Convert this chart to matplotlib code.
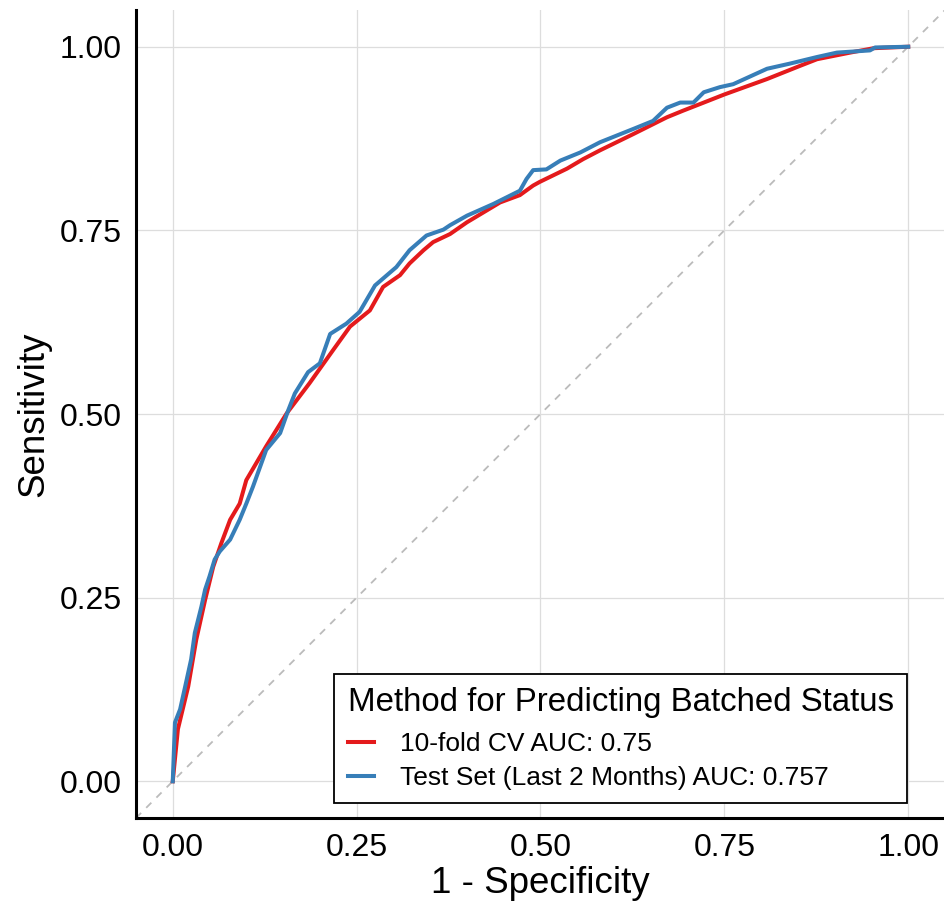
import numpy as np
import matplotlib
matplotlib.use("Agg")
import matplotlib.pyplot as plt

plt.rcParams['font.family'] = ['Liberation Sans', 'DejaVu Sans']

# ROC points (false positive rate, true positive rate)
cv_fpr = [0.0, 0.007, 0.021, 0.032, 0.044, 0.055, 0.066, 0.078, 0.091, 0.100, 0.127,
          0.155, 0.186, 0.218, 0.241, 0.268, 0.286, 0.309, 0.322, 0.341, 0.354, 0.377,
          0.400, 0.445, 0.472, 0.490, 0.499, 0.536, 0.558, 0.581, 0.626, 0.672, 0.694,
          0.717, 0.750, 0.808, 0.853, 0.876, 0.921, 0.953, 1.0]
cv_tpr = [0.0, 0.071, 0.129, 0.193, 0.247, 0.292, 0.324, 0.356, 0.378, 0.410, 0.456,
          0.501, 0.542, 0.587, 0.619, 0.641, 0.673, 0.689, 0.705, 0.723, 0.734, 0.745,
          0.761, 0.788, 0.798, 0.811, 0.816, 0.834, 0.847, 0.859, 0.881, 0.904, 0.913,
          0.922, 0.935, 0.956, 0.974, 0.983, 0.992, 0.998, 1.0]

test_fpr = [0.0, 0.003, 0.010, 0.016, 0.025, 0.030, 0.039, 0.044, 0.050, 0.057, 0.064,
            0.078, 0.091, 0.100, 0.109, 0.127, 0.146, 0.157, 0.166, 0.184, 0.200, 0.214,
            0.236, 0.254, 0.275, 0.304, 0.322, 0.345, 0.368, 0.377, 0.400, 0.436, 0.472,
            0.481, 0.490, 0.508, 0.527, 0.554, 0.581, 0.626, 0.653, 0.672, 0.690, 0.708,
            0.722, 0.744, 0.762, 0.808, 0.839, 0.876, 0.903, 0.948, 0.955, 1.0]
test_tpr = [0.0, 0.080, 0.098, 0.125, 0.166, 0.202, 0.238, 0.261, 0.279, 0.302, 0.313,
            0.329, 0.356, 0.378, 0.401, 0.451, 0.474, 0.505, 0.528, 0.557, 0.569, 0.609,
            0.623, 0.639, 0.675, 0.700, 0.723, 0.743, 0.751, 0.757, 0.770, 0.786, 0.804,
            0.820, 0.832, 0.833, 0.845, 0.856, 0.870, 0.888, 0.899, 0.917, 0.924, 0.924,
            0.938, 0.945, 0.949, 0.970, 0.977, 0.986, 0.992, 0.995, 0.999, 1.0]

labels = ['10-fold CV AUC: 0.75', 'Test Set (Last 2 Months) AUC: 0.757']
line_colors = ['#E41A1C', '#377EB8']
ticks = [0.0, 0.25, 0.5, 0.75, 1.0]
tick_labels = ['0.00', '0.25', '0.50', '0.75', '1.00']

fig = plt.figure(figsize=(9.45, 9.09), dpi=100)
ax = fig.add_axes([0.1439, 0.1001, 0.8561, 0.8889])

# chance line
ax.plot([-0.05, 1.05], [-0.05, 1.05], color='#BBBBBB', lw=1.3, ls=(0, (4, 4)), zorder=1)

ax.plot(cv_fpr, cv_tpr, color=line_colors[0], lw=2.9, label=labels[0], zorder=3)
ax.plot(test_fpr, test_tpr, color=line_colors[1], lw=2.9, label=labels[1], zorder=4)

ax.set_xlim(-0.05, 1.05)
ax.set_ylim(-0.05, 1.05)
ax.set_xticks(ticks)
ax.set_xticklabels(tick_labels)
ax.set_yticks(ticks)
ax.set_yticklabels(tick_labels)
ax.grid(True, color='#DDDDDD', lw=0.9, zorder=0)
ax.set_axisbelow(True)
ax.tick_params(length=0, labelsize=23, colors='black')
ax.tick_params(axis='x', pad=11)
ax.tick_params(axis='y', pad=10)

for side in ['top', 'right']:
    ax.spines[side].set_visible(False)
for side in ['left', 'bottom']:
    ax.spines[side].set_linewidth(2.2)
    ax.spines[side].set_color('black')

ax.set_xlabel('1 - Specificity', fontsize=26.5, labelpad=2)
ax.set_ylabel('Sensitivity', fontsize=26.5, labelpad=6)

leg = ax.legend(title='Method for Predicting Batched Status', loc='lower right',
                bbox_to_anchor=(0.953, 0.0186), borderaxespad=0, fontsize=19,
                title_fontsize=23.8, fancybox=False, framealpha=1, edgecolor='black',
                handlelength=1.0, handletextpad=1.0, borderpad=0.5, labelspacing=0.38,
                alignment='left')
leg.get_frame().set_linewidth(1.3)
# extra room between the title and the entries
leg._legend_box.sep = 10

fig.savefig('out.png', dpi=100)
